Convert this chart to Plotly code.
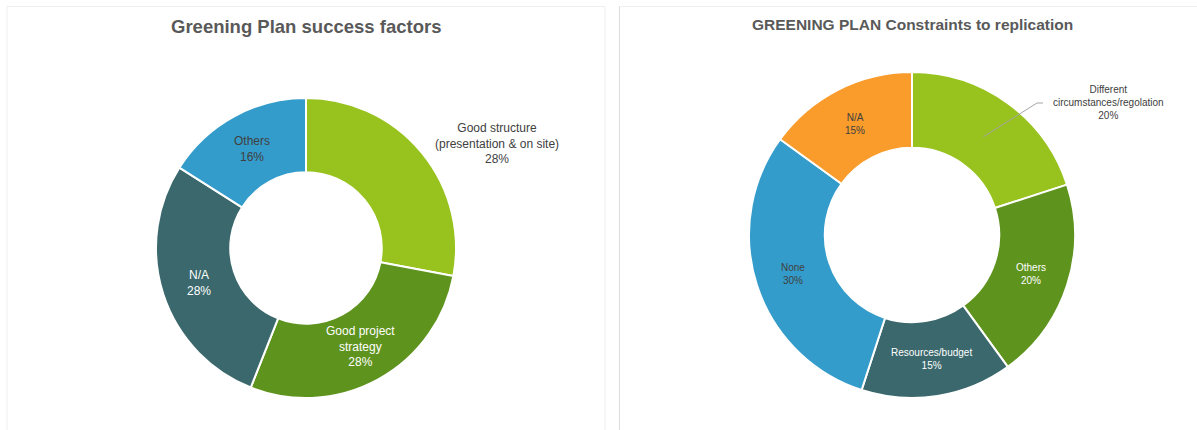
import math
import plotly.graph_objects as go

W, H = 1197, 430
FONT = "Liberation Sans, Arial, sans-serif"

# Left chart: Greening Plan success factors
success_labels = ["Good structure<br>(presentation & on site)", "Good project<br>strategy", "N/A", "Others"]
success_values = [28, 28, 28, 16]
success_colors = ["#98C21E", "#5E931E", "#3A686C", "#349CCB"]
success_text_colors = ["#404040", "#FFFFFF", "#FFFFFF", "#404040"]
success_inside = [False, True, True, True]

# Right chart: Constraints to replication
constraint_labels = ["Different<br>circumstances/regolation", "Others", "Resources/budget", "None", "N/A"]
constraint_values = [20, 20, 15, 30, 15]
constraint_colors = ["#98C21E", "#5E931E", "#3A686C", "#349CCB", "#F99C2B"]
constraint_text_colors = ["#404040", "#FFFFFF", "#FFFFFF", "#404040", "#404040"]
constraint_inside = [False, True, True, True, True]


def px_x(x):
    return x / W


def px_y(y):
    return 1 - y / H


def domain(cx, cy, r):
    return dict(x=[px_x(cx - r), px_x(cx + r)], y=[px_y(cy + r), px_y(cy - r)])


def pct(values, i):
    return round(100 * values[i] / sum(values))


def mid_angle(values, i):
    total = sum(values)
    start = sum(values[:i])
    return 2 * math.pi * (start + values[i] / 2) / total


def ring_point(cx, cy, r, ang):
    return cx + r * math.sin(ang), cy - r * math.cos(ang)


L_CX, L_CY, L_R, L_HOLE = 306, 248, 150, 0.505
R_CX, R_CY, R_R, R_HOLE = 912, 235, 163, 0.535

fig = go.Figure()

fig.add_trace(go.Pie(
    labels=[l.replace("<br>", " ") for l in success_labels],
    values=success_values,
    textinfo="none",
    marker=dict(colors=success_colors, line=dict(color="#FFFFFF", width=2)),
    hole=L_HOLE,
    sort=False,
    direction="clockwise",
    rotation=0,
    showlegend=False,
    domain=domain(L_CX, L_CY, L_R),
))

fig.add_trace(go.Pie(
    labels=[l.replace("<br>", " ") for l in constraint_labels],
    values=constraint_values,
    textinfo="none",
    marker=dict(colors=constraint_colors, line=dict(color="#FFFFFF", width=2)),
    hole=R_HOLE,
    sort=False,
    direction="clockwise",
    rotation=0,
    showlegend=False,
    domain=domain(R_CX, R_CY, R_R),
))

annotations = [
    dict(text="<b>Greening Plan success factors</b>", x=px_x(306), y=px_y(27),
         xref="paper", yref="paper", showarrow=False, xanchor="center", yanchor="middle",
         font=dict(family=FONT, size=18.5, color="#595959")),
    dict(text="<b>GREENING PLAN Constraints to replication</b>", x=px_x(912), y=px_y(25),
         xref="paper", yref="paper", showarrow=False, xanchor="center", yanchor="middle",
         font=dict(family=FONT, size=15.5, color="#595959")),
]

# slice labels placed at the middle of each ring segment
def inside_labels(labels, values, inside, colors, cx, cy, r, hole, size):
    out = []
    for i, lab in enumerate(labels):
        if not inside[i]:
            continue
        x, y = ring_point(cx, cy, r * (1 + hole) / 2, mid_angle(values, i))
        out.append(dict(text=f"{lab}<br>{pct(values, i)}%", x=px_x(x), y=px_y(y),
                        xref="paper", yref="paper", showarrow=False,
                        xanchor="center", yanchor="middle", align="center",
                        font=dict(family=FONT, size=size, color=colors[i])))
    return out


annotations += inside_labels(success_labels, success_values, success_inside,
                             success_text_colors, L_CX, L_CY, L_R, L_HOLE, 12)
annotations += inside_labels(constraint_labels, constraint_values, constraint_inside,
                             constraint_text_colors, R_CX, R_CY, R_R, R_HOLE, 10)

# outside labels
annotations.append(dict(text=f"{success_labels[0]}<br>{pct(success_values, 0)}%",
                        x=px_x(497), y=px_y(143), xref="paper", yref="paper", showarrow=False,
                        xanchor="center", yanchor="middle", align="center",
                        font=dict(family=FONT, size=12, color="#404040")))
annotations.append(dict(text=f"{constraint_labels[0]}<br>{pct(constraint_values, 0)}%",
                        x=px_x(1108), y=px_y(102), xref="paper", yref="paper", showarrow=False,
                        xanchor="center", yanchor="middle", align="center",
                        font=dict(family=FONT, size=10, color="#404040")))

shapes = [
    # panel frames
    dict(type="rect", xref="paper", yref="paper",
         x0=px_x(7), x1=px_x(605), y0=px_y(440), y1=px_y(6.5),
         line=dict(color="#EFEFEF", width=1), fillcolor="rgba(0,0,0,0)"),
    dict(type="rect", xref="paper", yref="paper",
         x0=px_x(619.5), x1=px_x(1210), y0=px_y(440), y1=px_y(6.5),
         line=dict(color="#EFEFEF", width=1), fillcolor="rgba(0,0,0,0)"),
    dict(type="line", xref="paper", yref="paper",
         x0=px_x(619.5), x1=px_x(619.5), y0=px_y(430), y1=px_y(6.5),
         line=dict(color="#DCDCDC", width=1)),
]

# leader line for the outside label of the right chart
sx, sy = ring_point(R_CX, R_CY, 0.745 * R_R, mid_angle(constraint_values, 0))
elbow_x, elbow_y, end_x = 1037, 103, 1043
shapes.append(dict(type="path", xref="paper", yref="paper",
                   path=f"M {px_x(sx)},{px_y(sy)} L {px_x(elbow_x)},{px_y(elbow_y)} L {px_x(end_x)},{px_y(elbow_y)}",
                   line=dict(color="#A6A6A6", width=1)))

fig.update_layout(
    width=W, height=H,
    margin=dict(l=0, r=0, t=0, b=0),
    paper_bgcolor="#FFFFFF",
    plot_bgcolor="#FFFFFF",
    shapes=shapes,
    annotations=annotations,
)

fig.write_html("out.html")
